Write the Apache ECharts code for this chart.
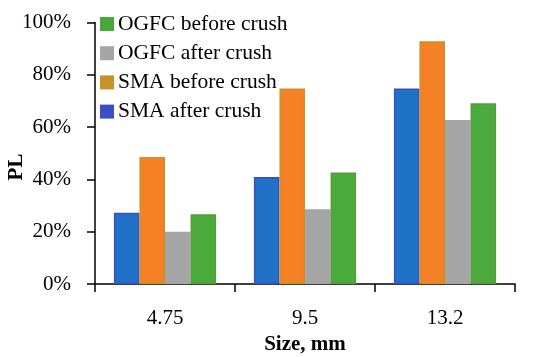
<!DOCTYPE html>
<html><head><meta charset="utf-8">
<script src="https://cdn.jsdelivr.net/npm/echarts@6/dist/echarts.min.js"></script>
<style>html,body{margin:0;padding:0;background:#fff}#c{width:550px;height:357px}</style>
</head><body><div id="c"></div>
<script>
var categories = ['4.75', '9.5', '13.2'];
var smaAfter = [27.2, 40.9, 74.8];
var smaBefore = [48.6, 74.8, 92.8];
var ogfcAfter = [20.0, 28.6, 62.7];
var ogfcBefore = [26.7, 42.6, 69.1];
var yTicks = [0, 20, 40, 60, 80, 100];

var FONT = '"Liberation Serif", serif';
var fills = ['#1f72c8', '#f58025', '#a5a5a5', '#4aab3c'];
var borders = ['#3a4fc2', '#c8922a', '#a5a5a5', '#5a9a3a'];
var names = ['SMA after crush', 'SMA before crush', 'OGFC after crush', 'OGFC before crush'];
var datas = [smaAfter, smaBefore, ogfcAfter, ogfcBefore];

var chart = echarts.init(document.getElementById('c'));
var series = names.map(function (n, i) {
  return {
    name: n, type: 'bar', data: datas[i],
    barGap: '0%', barCategoryGap: '27%',
    itemStyle: { color: fills[i], borderColor: borders[i], borderWidth: i === 2 ? 0 : 1.5 }
  };
});
chart.setOption({
  animation: false,
  grid: { left: 95, right: 35, top: 22.5, bottom: 73, outerBoundsMode: 'none', containLabel: false },
  legend: {
    orient: 'vertical', left: 100, top: 13, itemGap: 7.2, padding: 0,
    itemWidth: 14, itemHeight: 14, icon: 'rect',
    textStyle: { fontFamily: FONT, fontSize: 21.5, color: '#000', padding: [0, 0, 0, -1] },
    data: [
      { name: 'OGFC before crush', itemStyle: { color: '#4aa83a', borderWidth: 0 } },
      { name: 'OGFC after crush', itemStyle: { color: '#a5a5a5', borderWidth: 0 } },
      { name: 'SMA before crush', itemStyle: { color: '#c8922a', borderWidth: 0 } },
      { name: 'SMA after crush', itemStyle: { color: '#3a4fc2', borderWidth: 0 } }
    ]
  },
  graphic: [{
    type: 'text', x: 17, y: 167, rotation: Math.PI / 2,
    style: { text: 'PL', fontFamily: FONT, fontSize: 21, fontWeight: 'bold', fill: '#000',
      align: 'center', verticalAlign: 'middle' }
  }],
  xAxis: {
    type: 'category', data: categories,
    name: 'Size, mm', nameLocation: 'middle', nameGap: 45,
    nameTextStyle: { fontFamily: FONT, fontSize: 21, fontWeight: 'bold', color: '#000' },
    axisLine: { lineStyle: { color: '#000', width: 1.5 } },
    axisTick: { show: true, length: 8, lineStyle: { color: '#000', width: 1.5 } },
    axisLabel: { fontFamily: FONT, fontSize: 21, color: '#000', margin: 24 }
  },
  yAxis: {
    type: 'value', min: 0, max: 100, interval: 20,
    axisLine: { show: true, lineStyle: { color: '#000', width: 1.5 } },
    axisTick: { show: true, length: 8, lineStyle: { color: '#000', width: 1.5 } },
    splitLine: { show: false },
    axisLabel: {
      fontFamily: FONT, fontSize: 21, color: '#000', margin: 24,
      formatter: function (v) { return yTicks.indexOf(v) >= 0 ? v + '%' : ''; }
    }
  },
  series: series
});
</script></body></html>
